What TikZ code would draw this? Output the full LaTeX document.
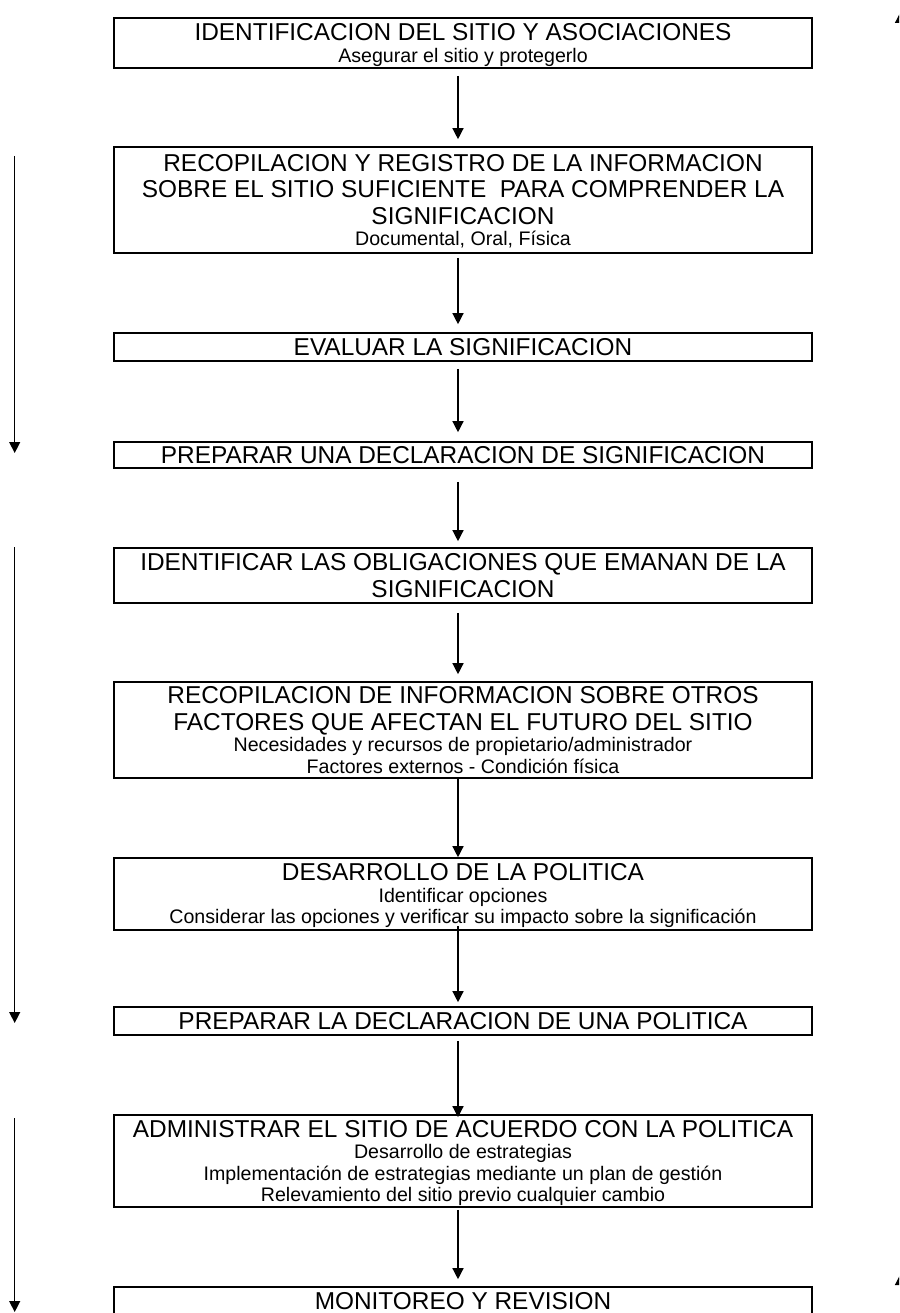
\documentclass[tikz,border=0pt]{standalone}
\usepackage{fontspec}
\setmainfont{Liberation Sans}
\usetikzlibrary{arrows.meta}

% heading lines inside a stage box
\newcommand\stagehead[1]{{\fontsize{24.4}{26.5}\selectfont #1}}
% fixed top and bottom of every text block
\newcommand\topstrut{\rule{0pt}{21pt}}
\newcommand\botstrut{\rule[-4pt]{0pt}{4pt}}

\begin{document}
\begin{tikzpicture}[x=1pt,y=-1pt,
  stage/.style={draw, line width=1.6pt, minimum width=698pt, inner sep=0pt,
                align=center, font=\fontsize{19.6}{22}\selectfont},
  flow/.style={line width=1.3pt, -{Triangle[width=11pt,length=11pt]}},
]
\useasboundingbox (0,0) rectangle (899,1313);
\clip (0,0) rectangle (899,1313);

% column of the central connectors
\coordinate (ax) at (458,0);

% stages of the process
\node[stage, minimum height=50pt] (b1) at (463,43)
  {\topstrut\stagehead{IDENTIFICACION DEL SITIO Y ASOCIACIONES}\\[0.5pt]
   Asegurar el sitio y protegerlo\botstrut};
\node[stage, minimum height=106pt] (b2) at (463,200)
  {\topstrut\stagehead{RECOPILACION Y REGISTRO DE LA INFORMACION}\\[4.5pt]
   \stagehead{SOBRE EL SITIO SUFICIENTE\ \ PARA COMPRENDER LA}\\[4.5pt]
   \stagehead{SIGNIFICACION}\\[-0.5pt]
   Documental, Oral, Física\botstrut};
\node[stage, minimum height=28pt] (b3) at (463,347)
  {\topstrut\stagehead{EVALUAR LA SIGNIFICACION}\botstrut};
\node[stage, minimum height=26pt] (b4) at (463,455)
  {\topstrut\stagehead{PREPARAR UNA DECLARACION DE SIGNIFICACION}\botstrut};
\node[stage, minimum height=55pt] (b5) at (463,575.5)
  {\topstrut\stagehead{IDENTIFICAR LAS OBLIGACIONES QUE EMANAN DE LA}\\[4.5pt]
   \stagehead{SIGNIFICACION}\botstrut};
\node[stage, minimum height=96pt] (b6) at (463,730)
  {\topstrut\stagehead{RECOPILACION DE INFORMACION SOBRE OTROS}\\[4.5pt]
   \stagehead{FACTORES QUE AFECTAN EL FUTURO DEL SITIO}\\[-0.5pt]
   Necesidades y recursos de propietario/administrador\\[-0.5pt]
   Factores externos - Condición física\botstrut};
\node[stage, minimum height=72pt] (b7) at (463,894)
  {\topstrut\stagehead{DESARROLLO DE LA POLITICA}\\[-0.5pt]
   Identificar opciones\\[-0.5pt]
   Considerar las opciones y verificar su impacto sobre la significación\botstrut};
\node[stage, minimum height=28pt] (b8) at (463,1021)
  {\topstrut\stagehead{PREPARAR LA DECLARACION DE UNA POLITICA}\botstrut};
\node[stage, minimum height=92pt] (b9) at (463,1161)
  {\topstrut\stagehead{ADMINISTRAR EL SITIO DE ACUERDO CON LA POLITICA}\\[-0.5pt]
   Desarrollo de estrategias\\[-0.5pt]
   Implementación de estrategias mediante un plan de gestión\\[-0.5pt]
   Relevamiento del sitio previo cualquier cambio\botstrut};
\node[stage, minimum height=28pt] (b10) at (463,1301)
  {\topstrut\stagehead{MONITOREO Y REVISION}\botstrut};

% central flow
\draw[flow, shorten <=7pt, shorten >=7pt] (b1.south -| ax) -- (b2.north -| ax);
\draw[flow, shorten <=4pt, shorten >=8pt] (b2.south -| ax) -- (b3.north -| ax);
\draw[flow, shorten <=7pt, shorten >=9pt] (b3.south -| ax) -- (b4.north -| ax);
\draw[flow, shorten <=13pt, shorten >=6pt] (b4.south -| ax) -- (b5.north -| ax);
\draw[flow, shorten <=9pt, shorten >=7pt] (b5.south -| ax) -- (b6.north -| ax);
\draw[flow] (b6.south -| ax) -- (b7.north -| ax);
\draw[flow, shorten <=-5pt, shorten >=4pt] (b7.south -| ax) -- (b8.north -| ax);
\draw[flow, shorten <=5pt, shorten >=-3pt] (b8.south -| ax) -- (b9.north -| ax);
\draw[flow, shorten <=2pt, shorten >=7pt] (b9.south -| ax) -- (b10.north -| ax);

% phase arrows on the left
\coordinate (l1s) at (14.7,156);  \coordinate (l1e) at (14.7,453);
\coordinate (l2s) at (14.7,547);  \coordinate (l2e) at (14.7,1023);
\coordinate (l3s) at (14.7,1118); \coordinate (l3e) at (14.7,1312);
\draw[flow] (l1s) -- (l1e);
\draw[flow] (l2s) -- (l2e);
\draw[flow] (l3s) -- (l3e);

% return arrows along the right edge
\coordinate (r1s) at (900.5,300);  \coordinate (r1e) at (900.5,12);
\coordinate (r2s) at (900.5,1313); \coordinate (r2e) at (900.5,1274);
\draw[flow] (r1s) -- (r1e);
\draw[flow] (r2s) -- (r2e);
\end{tikzpicture}
\end{document}
